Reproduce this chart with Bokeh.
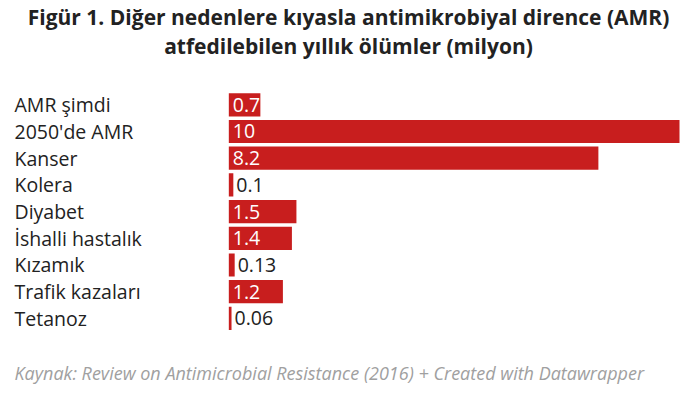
from bokeh.plotting import figure
from bokeh.models import ColumnDataSource, Range1d
from bokeh.core.properties import value
from bokeh.embed import file_html
from bokeh.resources import INLINE

categories = ["AMR şimdi", "2050'de AMR", "Kanser", "Kolera", "Diyabet",
              "İshalli hastalık", "Kızamık", "Trafik kazaları", "Tetanoz"]
values = [0.7, 10, 8.2, 0.1, 1.5, 1.4, 0.13, 1.2, 0.06]
value_labels = ["0.7", "10", "8.2", "0.1", "1.5", "1.4", "0.13", "1.2", "0.06"]

title_lines = ["Figür 1. Diğer nedenlere kıyasla antimikrobiyal dirence (AMR)",
               "atfedilebilen yıllık ölümler (milyon)"]
footer = "Kaynak: Review on Antimicrobial Resistance (2016) + Created with Datawrapper"

FONT = "Open Sans"
RED = "#c81e1e"

rows = list(range(len(categories)))
inside = [v >= 0.5 for v in values]
src = ColumnDataSource(dict(
    y=rows, right=values, cat=categories, lab=value_labels,
    lx=[0 if i else v for v, i in zip(values, inside)],
    loff=[4 if i else 3 for i in inside],
    lcol=["white" if i else "#222222" for i in inside],
    cx=[-4.755] * len(rows),
))

p = figure(width=680, height=387, output_backend="svg", toolbar_location=None,
           x_range=Range1d(-5.066, 10.022), y_range=Range1d(10.588, -3.906),
           min_border=0, x_axis_location=None, y_axis_location=None)
p.xgrid.visible = False
p.ygrid.visible = False
p.outline_line_color = None

p.hbar(y="y", left=0, right="right", height=0.87, source=src,
       fill_color=RED, line_color=None)

p.text(x="cx", y="y", text="cat", source=src, text_font=value(FONT),
       text_font_size="19.5px", text_color="#222222",
       text_baseline="middle", text_align="left")
p.text(x="lx", y="y", text="lab", source=src, x_offset="loff",
       text_font=value(FONT), text_font_size="19.5px", text_color="lcol",
       text_baseline="middle", text_align="left")

tsrc = ColumnDataSource(dict(x=[2.656, 2.656], y=[-3.3, -2.22], t=title_lines))
p.text(x="x", y="y", text="t", source=tsrc, text_font=value(FONT),
       text_font_size="21px", text_font_style="bold", text_color="#222222",
       text_align="center", text_baseline="middle")

fsrc = ColumnDataSource(dict(x=[-4.755], y=[10.03], t=[footer]))
p.text(x="x", y="y", text="t", source=fsrc, text_font=value(FONT),
       text_font_size="18px", text_font_style="italic", text_color="#a0a0a0",
       text_align="left", text_baseline="middle")

open("out.html", "w").write(file_html(p, INLINE))
